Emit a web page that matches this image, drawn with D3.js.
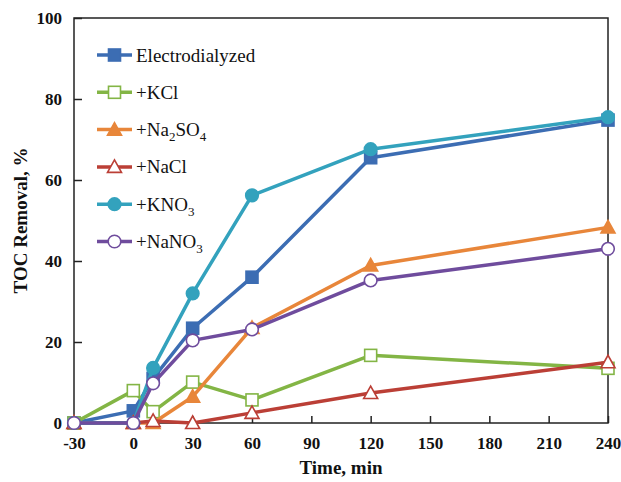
<!DOCTYPE html>
<html>
<head>
<meta charset="utf-8">
<script src="https://cdn.jsdelivr.net/npm/d3@7"></script>
<style>
  body { margin: 0; background: #fff; }
  svg { display: block; }
  text { font-family: "Liberation Serif", "Times New Roman", serif; fill: #111; }
</style>
</head>
<body>
<svg width="621" height="482"></svg>
<script>
// time points (min)
var times = [-30, 0, 10, 30, 60, 120, 240]

// TOC removal (%) per series
var electrodialyzed = [0, 3, 11, 23.4, 36, 65.5, 74.8]
var kcl = [0, 8, 2.8, 10.1, 5.7, 16.7, 13.5]
var na2so4 = [0, 0, 0, 6.5, 23.5, 38.9, 48.3]
var nacl = [0, 0, 0.5, 0, 2.5, 7.4, 15]
var kno3 = [0, 0, 13.6, 32, 56.2, 67.6, 75.5]
var nano3 = [0, 0, 9.8, 20.4, 23.1, 35.2, 43]

var xTicks = [-30, 0, 30, 60, 90, 120, 150, 180, 210, 240]
var yTicks = [0, 20, 40, 60, 80, 100]

var series = [
    { name: 'Electrodialyzed', values: electrodialyzed, color: '#3c6db3', shape: 'square', filled: true },
    { name: '+KCl', values: kcl, color: '#83b545', shape: 'square', filled: false },
    { name: '+Na|2|SO|4', values: na2so4, color: '#e8863a', shape: 'triangle', filled: true },
    { name: '+NaCl', values: nacl, color: '#bb3f36', shape: 'triangle', filled: false },
    { name: '+KNO|3', values: kno3, color: '#33a2bd', shape: 'circle', filled: true },
    { name: '+NaNO|3', values: nano3, color: '#6f4c9d', shape: 'circle', filled: false }
]

var svg = d3.select('svg')
var plotL = 74, plotR = 608, plotT = 18, plotB = 423

var x = d3.scaleLinear().domain([-30, 240]).range([plotL, plotR])
var y = d3.scaleLinear().domain([0, 100]).range([plotB, plotT])

// frame
svg.append('rect')
    .attr('x', plotL)
    .attr('y', plotT)
    .attr('width', plotR - plotL)
    .attr('height', plotB - plotT)
    .attr('fill', 'none')
    .attr('stroke', '#222')
    .attr('stroke-width', 1.5)

// axes (ticks inside)
svg.append('g')
    .attr('transform', 'translate(0,' + plotB + ')')
    .call(d3.axisBottom(x).tickValues(xTicks).tickFormat(function (d) { return String(d) })
        .tickSizeInner(-7).tickSizeOuter(0).tickPadding(14))
svg.append('g')
    .attr('transform', 'translate(' + plotL + ',0)')
    .call(d3.axisLeft(y).tickValues(yTicks).tickFormat(function (d) { return String(d) })
        .tickSizeInner(-8).tickSizeOuter(0).tickPadding(12))

svg.selectAll('.domain').remove()
svg.selectAll('.tick line').attr('stroke', '#222').attr('stroke-width', 1.5)
svg.selectAll('.tick text')
    .style('font-size', '17px')
    .style('font-weight', 'bold')
    .style('font-family', '"Liberation Serif", serif')
    .attr('fill', '#111')

// axis titles
svg.append('text')
    .text('Time, min')
    .attr('x', (plotL + plotR) / 2)
    .attr('y', 474)
    .style('text-anchor', 'middle')
    .style('font-size', '19px')
    .style('font-weight', 'bold')

svg.append('text')
    .text('TOC Removal, %')
    .attr('transform', 'translate(27,' + ((plotT + plotB) / 2) + ') rotate(-90)')
    .style('text-anchor', 'middle')
    .style('font-size', '19px')
    .style('font-weight', 'bold')

var line = d3.line()
    .x(function (d, i) { return x(times[i]) })
    .y(function (d) { return y(d) })

function drawMarker(g, shape, color, filled, cx, cy) {
    var fill = filled ? color : '#fff'
    if (shape === 'square') {
        g.append('rect')
            .attr('x', cx - 6)
            .attr('y', cy - 6)
            .attr('width', 12)
            .attr('height', 12)
            .attr('fill', fill)
            .attr('stroke', color)
            .attr('stroke-width', 1.6)
    } else if (shape === 'circle') {
        g.append('circle')
            .attr('cx', cx)
            .attr('cy', cy)
            .attr('r', 6.3)
            .attr('fill', fill)
            .attr('stroke', color)
            .attr('stroke-width', 1.6)
    } else {
        g.append('path')
            .attr('d', 'M' + cx + ',' + (cy - 7) + 'L' + (cx + 7) + ',' + (cy + 5.5) + 'L' + (cx - 7) + ',' + (cy + 5.5) + 'Z')
            .attr('fill', fill)
            .attr('stroke', color)
            .attr('stroke-width', 1.6)
    }
}

// series lines and markers
series.forEach(function (s) {
    var g = svg.append('g')
    g.append('path')
        .datum(s.values)
        .attr('d', line)
        .attr('fill', 'none')
        .attr('stroke', s.color)
        .attr('stroke-width', 3.5)
        .attr('stroke-linejoin', 'round')
    s.values.forEach(function (v, i) {
        drawMarker(g, s.shape, s.color, s.filled, x(times[i]), y(v))
    })
})

// legend
var legend = svg.append('g')
series.forEach(function (s, i) {
    var ly = 55 + i * 37.3
    var g = legend.append('g')
    g.append('line')
        .attr('x1', 97)
        .attr('x2', 132)
        .attr('y1', ly)
        .attr('y2', ly)
        .attr('stroke', s.color)
        .attr('stroke-width', 3.5)
    drawMarker(g, s.shape, s.color, s.filled, 114.5, ly)
    var t = g.append('text')
        .attr('x', 136)
        .attr('y', ly + 6.5)
        .style('font-size', '19px')
    var parts = s.name.split('|')
    parts.forEach(function (p, j) {
        var ts = t.append('tspan').text(p)
        if (j % 2 === 1) {
            ts.attr('dy', 5).style('font-size', '13px')
        } else if (j > 0) {
            ts.attr('dy', -5)
        }
    })
})
</script>
</body>
</html>
